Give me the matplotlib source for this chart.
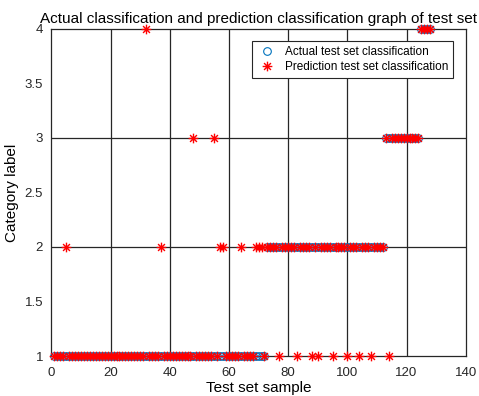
import matplotlib
matplotlib.use("Agg")
import matplotlib.pyplot as plt
from matplotlib.path import Path

plt.rcParams['font.family'] = ['Liberation Sans', 'DejaVu Sans']

# Actual class label of each test sample (samples 1..128)
actual_label = [
    1, 1, 1, 1, 1, 1, 1, 1, 1, 1, 1, 1, 1, 1, 1, 1, 1, 1, 1, 1,
    1, 1, 1, 1, 1, 1, 1, 1, 1, 1, 1, 1, 1, 1, 1, 1, 1, 1, 1, 1,
    1, 1, 1, 1, 1, 1, 1, 1, 1, 1, 1, 1, 1, 1, 1, 1, 1, 1, 1, 1,
    1, 1, 1, 1, 1, 1, 1, 1, 1, 1, 1, 1, 2, 2, 2, 2, 2, 2, 2, 2,
    2, 2, 2, 2, 2, 2, 2, 2, 2, 2, 2, 2, 2, 2, 2, 2, 2, 2, 2, 2,
    2, 2, 2, 2, 2, 2, 2, 2, 2, 2, 2, 2, 3, 3, 3, 3, 3, 3, 3, 3,
    3, 3, 3, 3, 4, 4, 4, 4,
]

# Predicted class label of each test sample
predicted_label = [
    1, 1, 1, 1, 2, 1, 1, 1, 1, 1, 1, 1, 1, 1, 1, 1, 1, 1, 1, 1,
    1, 1, 1, 1, 1, 1, 1, 1, 1, 1, 1, 4, 1, 1, 1, 1, 2, 1, 1, 1,
    1, 1, 1, 1, 1, 1, 1, 3, 1, 1, 1, 1, 1, 1, 3, 1, 2, 2, 1, 1,
    1, 1, 1, 2, 1, 1, 1, 1, 2, 2, 2, 1, 2, 2, 2, 2, 1, 2, 2, 2,
    2, 2, 1, 2, 2, 2, 2, 1, 2, 1, 2, 2, 2, 2, 1, 2, 2, 2, 2, 1,
    2, 2, 2, 1, 2, 2, 2, 1, 2, 2, 2, 2, 3, 1, 3, 3, 3, 3, 3, 3,
    3, 3, 3, 3, 4, 4, 4, 4,
]

sample_index = list(range(1, len(actual_label) + 1))

x_ticks = [0, 20, 40, 60, 80, 100, 120, 140]
y_ticks = [1, 1.5, 2, 2.5, 3, 3.5, 4]
y_tick_labels = ['1', '1.5', '2', '2.5', '3', '3.5', '4']

# MATLAB-like asterisk marker (lines, not a filled star)
d = 0.707
asterisk = Path(
    [(-1, 0), (1, 0), (0, -1), (0, 1), (-d, -d), (d, d), (-d, d), (d, -d)],
    [Path.MOVETO, Path.LINETO] * 4,
)

fig = plt.figure(figsize=(4.79, 3.96), dpi=100)
ax = fig.add_axes([0.1073, 0.101, 0.865, 0.8258])

# grid lines
for gx in [20, 40, 60, 80, 100, 120]:
    ax.axvline(gx, color='#262626', lw=0.9, zorder=1)
for gy in [2, 3]:
    ax.axhline(gy, color='#262626', lw=0.9, zorder=1)

ax.plot(sample_index, actual_label, linestyle='none', marker='o', markersize=5.5,
        markerfacecolor='none', markeredgecolor='#0072BD', markeredgewidth=0.8,
        label='Actual test set classification', zorder=3, clip_on=False)
ax.plot(sample_index, predicted_label, linestyle='none', marker=asterisk, markersize=7,
        markerfacecolor='none', markeredgecolor='red', markeredgewidth=1.0,
        label='Prediction test set classification', zorder=4, clip_on=False)

ax.set_xlim(0, 140)
ax.set_ylim(1, 4)
ax.set_xticks(x_ticks)
ax.set_yticks(y_ticks)
ax.set_yticklabels(y_tick_labels)
ax.tick_params(axis='both', direction='in', length=0, labelsize=9.5, colors='#262626')
ax.tick_params(axis='x', pad=8)
ax.tick_params(axis='y', pad=6)
for s in ax.spines.values():
    s.set_color('#262626')
    s.set_linewidth(0.9)

ax.set_title('Actual classification and prediction classification graph of test set',
             fontsize=11, pad=4)
ax.set_xlabel('Test set sample', fontsize=11, labelpad=1)
ax.set_ylabel('Category label', fontsize=11, labelpad=4)

leg = ax.legend(loc='upper right', bbox_to_anchor=(0.9693, 0.962), borderaxespad=0,
                fontsize=8.5, frameon=True, fancybox=False, edgecolor='#262626',
                framealpha=1, borderpad=0.4, handletextpad=0.6, labelspacing=0.25,
                handlelength=1.8)
leg.get_frame().set_linewidth(0.8)

fig.savefig('out.png', dpi=100)
